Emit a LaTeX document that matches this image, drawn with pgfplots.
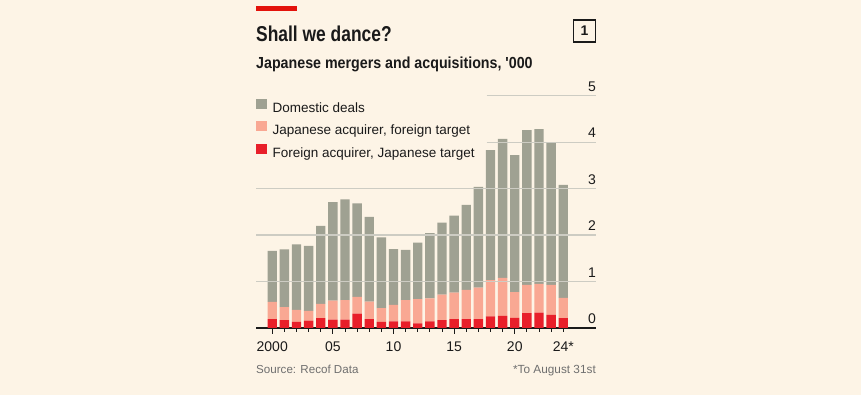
\documentclass[border=0pt]{standalone}
\usepackage{pgfplots}
\pgfplotsset{compat=1.18}
\usepackage{pgfplotstable}
\usepackage{fontspec}
\setmainfont{Liberation Sans}
\newfontfamily\titlefont[FakeStretch=0.81]{Liberation Sans}
\newfontfamily\subfont[FakeStretch=0.89]{Liberation Sans}
\definecolor{bg}{HTML}{FDF4E6}
\definecolor{dom}{HTML}{9FA192}
\definecolor{jaf}{HTML}{F9A893}
\definecolor{fja}{HTML}{E81F2A}
\definecolor{gridc}{HTML}{CDCCC3}
\definecolor{ink}{HTML}{1A1A1A}
\definecolor{econred}{HTML}{E3120B}
\definecolor{srcgrey}{HTML}{6F6F6F}
\pgfplotsset{mylegend/.style={legend image code/.code={\fill[##1] (0pt,0pt) rectangle (10.7pt,10pt);}}}

\pgfplotstableread{
year red pink dom
2000 0.19 0.37 1.10
2001 0.17 0.28 1.24
2002 0.13 0.26 1.41
2003 0.16 0.21 1.40
2004 0.21 0.31 1.68
2005 0.18 0.41 2.12
2006 0.18 0.42 2.17
2007 0.31 0.36 2.01
2008 0.19 0.38 1.82
2009 0.13 0.30 1.52
2010 0.14 0.36 1.20
2011 0.14 0.46 1.08
2012 0.10 0.52 1.22
2013 0.14 0.50 1.40
2014 0.17 0.55 1.55
2015 0.19 0.57 1.66
2016 0.19 0.63 1.83
2017 0.19 0.68 2.17
2018 0.25 0.78 2.80
2019 0.26 0.82 2.99
2020 0.22 0.55 2.95
2021 0.32 0.61 3.33
2022 0.33 0.62 3.33
2023 0.28 0.65 3.07
2024 0.21 0.44 2.43
}\datatable

\begin{document}
\begin{tikzpicture}
\fill[bg] (0,0) rectangle (861pt,395pt);
% top red rule
\fill[econred] (256pt,384pt) rectangle (297pt,389pt);
\node[anchor=base west, inner sep=0pt, text=ink, font={\titlefont\fontsize{21.5}{24}\selectfont\bfseries}] at (256pt,353pt) {Shall we dance?};
\draw[ink, line width=1.2pt] (573.5pt,353pt) rectangle (595.5pt,375pt);
\node[inner sep=0pt, text=ink, font={\fontsize{14}{16}\selectfont\bfseries}] at (584.5pt,364pt) {1};
\node[anchor=base west, inner sep=0pt, text=ink, font={\subfont\fontsize{16}{18}\selectfont\bfseries}] at (256pt,326.7pt) {Japanese mergers and acquisitions, '000};
\node[anchor=base west, inner sep=0pt, text=srcgrey, font={\fontsize{11.6}{14}\selectfont}] at (256pt,21.7pt) {Source: Recof Data};
\node[anchor=base east, inner sep=0pt, text=srcgrey, font={\fontsize{11.8}{14}\selectfont}] at (596pt,21.7pt) {*To August 31st};

\begin{axis}[
  at={(256pt,67pt)}, anchor=south west,
  scale only axis, width=340pt, height=232.3pt,
  xmin=1998.66, xmax=2026.7, ymin=0, ymax=5,
  ybar stacked, bar width=9.3pt,
  every axis plot post/.append style={mylegend},
  axis line style={draw=none},
  clip=false,
  /pgf/number format/assume math mode=true,
  xtick pos=bottom, ytick pos=right, yticklabel pos=right,
  xtick={2000,2005,2010,2015,2020},
  xticklabels={2000,05,10,15,20},
  extra x ticks={2024}, extra x tick labels={24*},
  extra x tick style={major tick length=4pt, xticklabel style={yshift=-2pt}},
  minor xtick={2001,2002,2003,2004,2006,2007,2008,2009,2011,2012,2013,2014,2016,2017,2018,2019,2021,2022,2023},
  xtick align=outside, ytick align=inside,
  major tick length=6pt, minor tick length=4pt,
  xtick style={ink, line width=0.9pt},
  ytick={0,1,2,3,4,5}, ytick style={draw=none},
  tick label style={font=\fontsize{14}{16}\selectfont, text=ink},
  xticklabel style={anchor=base, inner sep=0pt, yshift=-17.7pt},
  yticklabel style={anchor=south east, inner sep=0pt, yshift=4pt},
  legend style={at={(0,0.9858)}, anchor=north west, draw=none, fill=none,
    inner sep=0pt, outer sep=0pt, row sep=6pt, column sep=6pt,
    font=\fontsize{13.5}{16}\selectfont,
    nodes={inner sep=0pt, text height=10pt, text depth=3pt, text=ink}},
  legend cell align=left,
  reverse legend,
]
\draw[gridc, line width=1.2pt] (axis cs:1998.66,1) -- (axis cs:2026.7,1);
\draw[gridc, line width=1.2pt] (axis cs:1998.66,2) -- (axis cs:2026.7,2);
\draw[gridc, line width=1.2pt] (axis cs:1998.66,3) -- (axis cs:2026.7,3);
\draw[gridc, line width=1.2pt] (axis cs:2017.68,4) -- (axis cs:2026.7,4);
\draw[gridc, line width=1.2pt] (axis cs:2017.68,5) -- (axis cs:2026.7,5);
\addplot[fill=fja, draw=none] table[x=year, y=red] {\datatable};
\addlegendentry{Foreign acquirer, Japanese target}
\addplot[fill=jaf, draw=none] table[x=year, y=pink] {\datatable};
\addlegendentry{Japanese acquirer, foreign target}
\addplot[fill=dom, draw=none] table[x=year, y=dom] {\datatable};
\addlegendentry{Domestic deals}
\draw[ink, line width=1.3pt] (axis cs:1998.66,0) -- (axis cs:2026.7,0);
\end{axis}
\end{tikzpicture}
\end{document}
